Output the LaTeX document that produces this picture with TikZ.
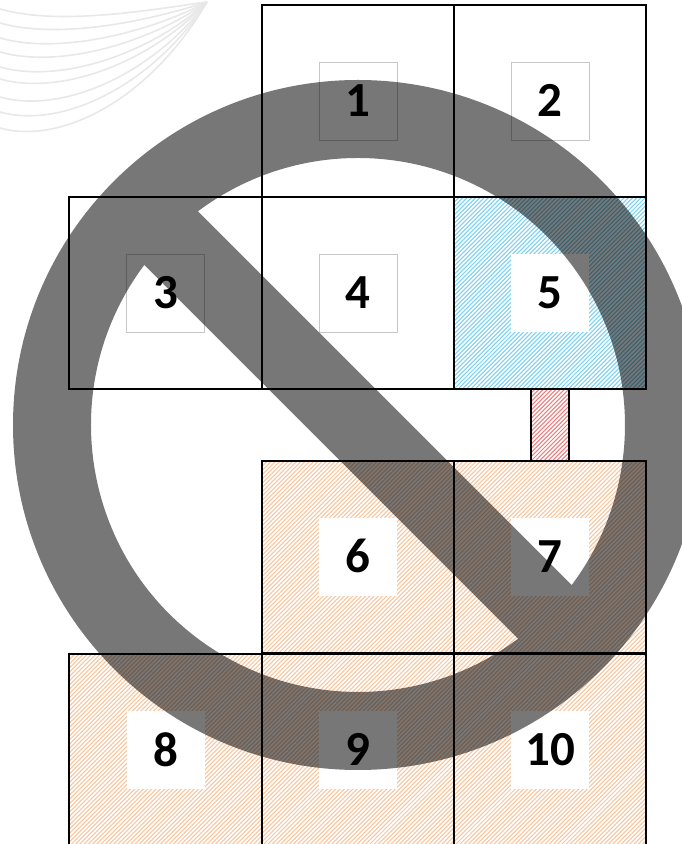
\documentclass[tikz,border=0pt]{standalone}
\usepackage{fontspec}
\setmainfont{Carlito}
\definecolor{hblue}{HTML}{7CD0F2}
\definecolor{hred}{HTML}{F07C7C}
\definecolor{horange}{HTML}{F8C49C}
\definecolor{ringgray}{HTML}{777777}
\newcommand{\dg}[1]{\raisebox{1.5pt}{#1}}
\tikzset{
  x=1pt,y=1pt,
  hatchlines/.style={path picture={
    \foreach \i in {-47,...,47}{
      \draw[#1,line width=1.05pt] ([xshift=\i*4.24pt]path picture bounding box.south west) -- ++(200,200);
    }}},
  cellbase/.style={minimum width=192.5pt,minimum height=192.5pt,inner sep=0pt,outer sep=0pt},
  hatchblue/.style={cellbase,hatchlines=hblue},
  hatchorange/.style={cellbase,hatchlines=horange},
  barbox/.style={minimum width=38pt,minimum height=72pt,inner sep=0pt,outer sep=0pt,draw=black,line width=1.6pt,
    hatchlines=hred},
  numbox/.style={minimum width=78pt,minimum height=78pt,inner sep=0pt,fill=white,text=black,
    font=\fontsize{49}{49}\selectfont\bfseries},
  numframed/.style={numbox,draw=black!22,line width=0.7pt},
  cellline/.style={draw=black,line width=1.8pt},
  swirl/.style={draw=black!9,line width=1.6pt},
  ringfill/.style={fill=ringgray,even odd rule},
}
\begin{document}
\begin{tikzpicture}
\useasboundingbox (0,0) rectangle (682,844);
\clip (0,0) rectangle (682,844);
% faint background curves
\foreach \m in {13,27,42,56,71,83,101,116,132}{
  \pgfmathsetmacro{\ya}{844-\m+4}
  \pgfmathsetmacro{\yb}{844-\m-13}
  \pgfmathsetmacro{\yc}{844-\m*0.76}
  \draw[swirl] (0,\ya) .. controls (60,\yb) and (150,\yc) .. (207,842);
}
% open cells and hatched cells
\node[cellbase] (c1) at (358,743) {};
\node[cellbase] (c2) at (550,743) {};
\node[cellbase] (c3) at (165.5,551) {};
\node[cellbase] (c4) at (358,551) {};
\node[hatchblue] (c5) at (550,551) {};
\node[hatchorange] (c6) at (358,287) {};
\node[hatchorange] (c7) at (550,287) {};
\node[hatchorange] (c8) at (165.5,94) {};
\node[hatchorange] (c9) at (358,94) {};
\node[hatchorange] (c10) at (550,94) {};
\node[barbox] (bar) at (550,419) {};
% numbered squares
\node[numframed] (n1) at (c1) {\dg{1}};
\node[numframed] (n2) at (c2) {\dg{2}};
\node[numframed] (n3) at (c3) {\dg{3}};
\node[numframed] (n4) at (c4) {\dg{4}};
\node[numbox] (n5) at (c5) {\dg{5}};
\node[numbox] (n6) at (c6) {\dg{6}};
\node[numbox] (n7) at (c7) {\dg{7}};
\node[numbox] (n8) at (c8) {\dg{8}};
\node[numbox] (n9) at (c9) {\dg{9}};
\node[numbox] (n10) at (c10) {\dg{10}};
% prohibition sign, multiplied over everything below
\begin{scope}[blend mode=multiply]
\fill[ringfill] (358,419) circle[radius=345]
  ([shift={(126.82:267)}]358,419) arc[start angle=126.82,end angle=-36.82,radius=267] -- cycle
  ([shift={(143.18:267)}]358,419) arc[start angle=143.18,end angle=306.82,radius=267] -- cycle;
\end{scope}
% cell outlines on top
\foreach \c in {c1,c2,c3,c4,c5,c6,c7,c8,c9,c10}{
  \draw[cellline] (\c.south west) rectangle (\c.north east);
}
\end{tikzpicture}
\end{document}
